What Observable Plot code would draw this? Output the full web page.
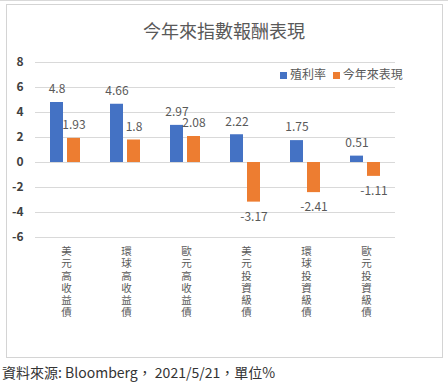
<!DOCTYPE html>
<html>
<head>
<meta charset="utf-8">
<script src="https://cdn.jsdelivr.net/npm/d3@7"></script>
<script src="https://cdn.jsdelivr.net/npm/@observablehq/plot@0.6"></script>
<style>
  body { margin: 0; width: 448px; height: 384px; position: relative; background: #fff; overflow: hidden;
         font-family: "Noto Sans CJK TC", "Noto Sans", sans-serif; }
  #topline { position: absolute; left: 0; top: 0; width: 448px; height: 1px; background: #d9d9d9; }
  #frame { position: absolute; left: 6px; top: 4px; width: 435px; height: 352px; border: 1px solid #d4d4d4; }
  #title { position: absolute; left: 0; width: 448px; top: 17px; text-align: center; font-size: 18px; color: #595959; line-height: 26px; }
  #chart { position: absolute; left: 0; top: 0; }
  #legend { position: absolute; left: 280px; top: 66px; font-size: 12px; color: #595959; white-space: nowrap; line-height: 16px; }
  #legend span.sw { display: inline-block; width: 7px; height: 7px; margin-right: 3px; vertical-align: 0px; }
  #caption { position: absolute; left: 2px; top: 362px; font-size: 14px; color: #333; line-height: 20px; white-space: nowrap; }
</style>
</head>
<body>
<div id="topline"></div>
<div id="frame"></div>
<div id="chart"></div>
<div id="title">今年來指數報酬表現</div>
<div id="legend"><span class="sw" style="background:#4472C4"></span>殖利率 <span class="sw" style="background:#ED7D31;margin-left:4px"></span>今年來表現</div>
<div id="caption">資料來源: Bloomberg， 2021/5/21，單位%</div>
<script>
const categories = ["美元高收益債", "環球高收益債", "歐元高收益債", "美元投資級債", "環球投資級債", "歐元投資級債"];
const seriesNames = ["殖利率", "今年來表現"];
const yieldValues = [4.8, 4.66, 2.97, 2.22, 1.75, 0.51];
const ytdValues = [1.93, 1.8, 2.08, -3.17, -2.41, -1.11];
const yTicks = [-6, -4, -2, 0, 2, 4, 6, 8];
const colors = ["#4472C4", "#ED7D31"];

const data = [];
categories.forEach((c, i) => {
  data.push({cat: c, series: seriesNames[0], value: yieldValues[i]});
  data.push({cat: c, series: seriesNames[1], value: ytdValues[i]});
});

const chart = Plot.plot({
  width: 448,
  height: 357,
  marginLeft: 35,
  marginRight: 53,
  marginTop: 62,
  marginBottom: 120,
  style: {fontFamily: "'Noto Sans CJK TC', 'Noto Sans', sans-serif", background: "transparent", overflow: "visible"},
  fx: {domain: categories, padding: 0, label: null, axis: null},
  x: {domain: seriesNames, paddingInner: 0.24, paddingOuter: 0.8, axis: null},
  y: {domain: [-6, 8], ticks: yTicks, label: null, axis: null},
  color: {domain: seriesNames, range: colors},
  marks: [
    Plot.ruleY(yTicks, {stroke: "#d9d9d9", strokeWidth: 1}),
    Plot.axisY({ticks: yTicks, tickSize: 0, tickPadding: 12, tickFormat: d => String(d), fontSize: 12, fill: "#404040", fontWeight: "bold", label: null}),
    Plot.barY(data, {fx: "cat", x: "series", y: "value", fill: "series"}),
    Plot.text(data.filter(d => d.value >= 0), {fx: "cat", x: "series", y: "value", text: d => String(d.value), dy: -13, fontSize: 12, fill: "#595959"}),
    Plot.text(data.filter(d => d.value < 0), {fx: "cat", x: "series", y: "value", text: d => String(d.value), dy: 15, fontSize: 12, fill: "#595959"}),
    Plot.text(categories, {fx: d => d, frameAnchor: "bottom", text: d => d.split("").join("\n"), lineAnchor: "top", dx: 1, dy: 9, lineHeight: 1.16, fontSize: 10.5, fill: "#595959"})
  ]
});
document.getElementById("chart").appendChild(chart);
</script>
</body>
</html>
